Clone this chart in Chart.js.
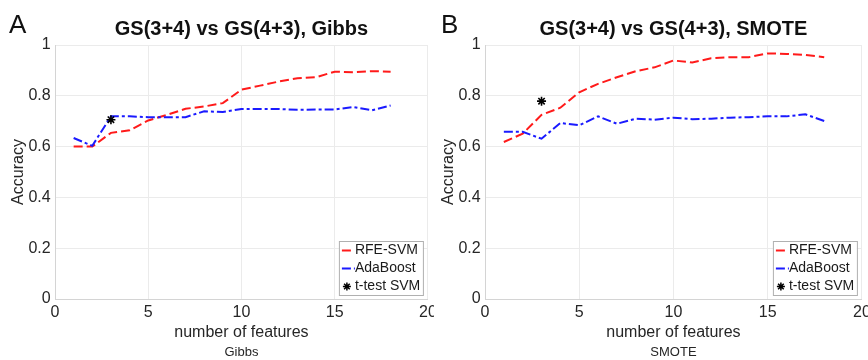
<!DOCTYPE html>
<html>
<head>
<meta charset="utf-8">
<script src="https://cdn.jsdelivr.net/npm/chart.js@4/dist/chart.umd.min.js"></script>
<style>
  html, body { margin: 0; padding: 0; background: #ffffff; }
  #wrap { position: relative; width: 868px; height: 360px; overflow: hidden; background: #fff; }
  .panel { position: absolute; top: 0; width: 434px; height: 360px; }
  .letter { position: absolute; font-family: "Liberation Sans", Arial, sans-serif; font-size: 26px; line-height: 26px; color: #111; }
</style>
</head>
<body>
<div id="wrap">
  <div class="panel" style="left:0"><canvas id="cA" width="434" height="360"></canvas></div>
  <div class="panel" style="left:434px"><canvas id="cB" width="434" height="360"></canvas></div>
  <div class="letter" style="left:9px; top:11px">A</div>
  <div class="letter" style="left:441px; top:11px">B</div>
</div>
<script>
// ---- data ----
const numFeatures = [1, 2, 3, 4, 5, 6, 7, 8, 9, 10, 11, 12, 13, 14, 15, 16, 17, 18];
const seriesLabels = ["RFE-SVM", "AdaBoost", "t-test SVM"];
const gibbsRFE = [0.600, 0.600, 0.654, 0.664, 0.703, 0.725, 0.749, 0.758, 0.771, 0.824, 0.840, 0.856, 0.869, 0.873, 0.895, 0.893, 0.897, 0.895];
const gibbsAda = [0.634, 0.603, 0.719, 0.719, 0.716, 0.716, 0.716, 0.739, 0.736, 0.748, 0.748, 0.748, 0.745, 0.746, 0.746, 0.756, 0.743, 0.762];
const smoteRFE = [0.618, 0.651, 0.725, 0.753, 0.814, 0.847, 0.873, 0.897, 0.912, 0.939, 0.931, 0.948, 0.952, 0.952, 0.967, 0.965, 0.961, 0.952];
const smoteAda = [0.658, 0.658, 0.631, 0.693, 0.684, 0.719, 0.690, 0.710, 0.706, 0.714, 0.708, 0.710, 0.714, 0.716, 0.719, 0.719, 0.727, 0.701];
const ttestX = [3];
const gibbsTtest = [0.706];
const smoteTtest = [0.779];
const xTicks = [0, 5, 10, 15, 20];
const yTicks = [0, 0.2, 0.4, 0.6, 0.8, 1];

const FONT = '"Liberation Sans", Arial, Helvetica, sans-serif';
const TXT = '#262626';

const boxLegend = {
  id: 'boxLegend',
  afterDatasetsDraw(chart) {
    const ctx = chart.ctx, ca = chart.chartArea;
    const w = 84, h = 54;
    const left = ca.right - 5 - w, top = ca.bottom - 4 - h;
    ctx.save();
    ctx.fillStyle = '#ffffff';
    ctx.fillRect(left, top, w, h);
    ctx.strokeStyle = '#b0b0b0';
    ctx.lineWidth = 1;
    ctx.strokeRect(left + 0.5, top + 0.5, w, h);
    ctx.font = '14px ' + FONT;
    ctx.fillStyle = '#1a1a1a';
    ctx.textBaseline = 'middle';
    ctx.textAlign = 'left';
    const rows = [9.5, 27.5, 45.5];
    chart.data.datasets.forEach((ds, i) => {
      const y = top + rows[i];
      if (ds.showLine === false) {
        const cx = left + 8, r = 4;
        ctx.strokeStyle = ds.borderColor;
        ctx.lineWidth = 1.5;
        ctx.setLineDash([]);
        ctx.beginPath();
        for (let k = 0; k < 4; k++) {
          const a = k * Math.PI / 4;
          ctx.moveTo(cx - r * Math.cos(a), y - r * Math.sin(a));
          ctx.lineTo(cx + r * Math.cos(a), y + r * Math.sin(a));
        }
        ctx.stroke();
      } else {
        ctx.strokeStyle = ds.borderColor;
        ctx.lineWidth = 2;
        ctx.setLineDash(ds.borderDash || []);
        ctx.beginPath();
        ctx.moveTo(left + 3, y);
        ctx.lineTo(left + (i === 0 ? 12 : 16), y);
        ctx.stroke();
        ctx.setLineDash([]);
      }
      ctx.fillText(ds.label, left + 16, y);
    });
    ctx.restore();
  }
};

function makeChart(id, titleText, subText, rfe, ada, tt, yWidth, yTitlePad) {
  const toXY = (arr) => arr.map((v, i) => ({ x: numFeatures[i], y: v }));
  return new Chart(document.getElementById(id), {
    type: 'line',
    data: {
      datasets: [
        { label: seriesLabels[0], data: toXY(rfe), borderColor: '#ff1a1a', borderWidth: 2,
          borderDash: [9, 4], pointRadius: 0, fill: false, tension: 0, order: 2 },
        { label: seriesLabels[1], data: toXY(ada), borderColor: '#1a1aff', borderWidth: 2,
          borderDash: [9, 3, 3, 3], pointRadius: 0, fill: false, tension: 0, order: 1 },
        { label: seriesLabels[2], data: tt.map((v, i) => ({ x: ttestX[i], y: v })), showLine: false,
          pointStyle: 'star', pointRadius: 4.5, borderColor: '#000000', backgroundColor: '#000000',
          pointBorderWidth: 1.6, order: 0 }
      ]
    },
    options: {
      responsive: false,
      animation: false,
      devicePixelRatio: 1,
      layout: { padding: 0 },
      plugins: {
        legend: { display: false },
        tooltip: { enabled: false },
        title: { display: true, text: titleText, fullSize: false, color: '#111',
          font: { family: FONT, size: 20, weight: 'bold', lineHeight: 1.2 },
          padding: { top: 17, bottom: 4 } },
        subtitle: { display: true, text: subText, position: 'bottom', fullSize: false, color: TXT,
          font: { family: FONT, size: 13, lineHeight: 1.2 }, padding: 0 }
      },
      scales: {
        x: {
          type: 'linear', min: 0, max: 20,
          afterBuildTicks: (s) => { s.ticks = xTicks.map(v => ({ value: v })); },
          afterFit: (s) => { s.height = 45.4; s.paddingLeft = 0; s.paddingRight = 0; },
          grid: { color: '#ebebeb', drawTicks: false },
          border: { color: '#d4d4d4' },
          ticks: { color: TXT, padding: 4, maxRotation: 0, autoSkip: false, font: { family: FONT, size: 16 },
            callback: (v) => String(+Number(v).toFixed(2)) },
          title: { display: true, text: 'number of features', color: TXT,
            font: { family: FONT, size: 16, lineHeight: 1.2 }, padding: { top: 0, bottom: 1.8 } }
        },
        y: {
          min: 0, max: 1,
          afterBuildTicks: (s) => { s.ticks = yTicks.map(v => ({ value: v })); },
          afterFit: (s) => { s.width = yWidth; s.paddingTop = 0; s.paddingBottom = 0; },
          grid: { color: '#ebebeb', drawTicks: false },
          border: { color: '#d4d4d4' },
          ticks: { color: TXT, padding: 4.3, font: { family: FONT, size: 16 },
            callback: (v) => String(+Number(v).toFixed(2)) },
          title: { display: true, text: 'Accuracy', color: TXT,
            font: { family: FONT, size: 16, lineHeight: 1.2 }, padding: { top: yTitlePad, bottom: 0 } }
        }
      }
    },
    plugins: [boxLegend]
  });
}

makeChart('cA', 'GS(3+4) vs GS(4+3), Gibbs', 'Gibbs', gibbsRFE, gibbsAda, gibbsTtest, 55, 9.4);
makeChart('cB', 'GS(3+4) vs GS(4+3), SMOTE', 'SMOTE', smoteRFE, smoteAda, smoteTtest, 51, 5.4);
</script>
</body>
</html>
